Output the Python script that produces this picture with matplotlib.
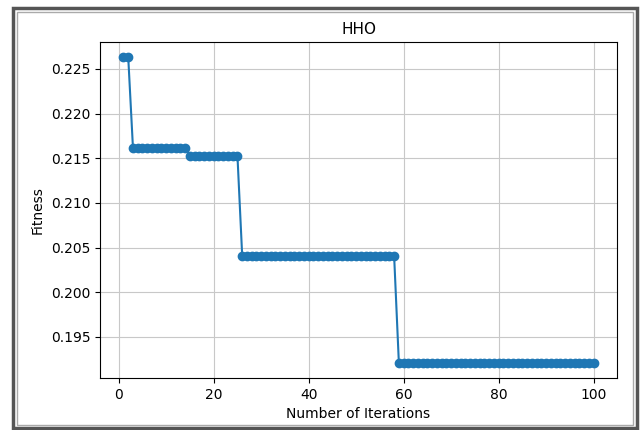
import matplotlib
matplotlib.use("Agg")
import matplotlib.pyplot as plt
from matplotlib.patches import Rectangle

levels = [0.2263, 0.2161, 0.2153, 0.2041, 0.1921]
run_lengths = [2, 12, 11, 33, 42]

fitness = []
for level, n in zip(levels, run_lengths):
    fitness += [level] * n
iterations = list(range(1, len(fitness) + 1))

fig = plt.figure(figsize=(6.43, 4.30), dpi=100)
ax = fig.add_axes([0.1555, 0.1209, 0.8041, 0.7814])
ax.plot(iterations, fitness, marker='o', color='#1f77b4')
ax.set_title("HHO", fontsize=11)
ax.set_xlabel("Number of Iterations")
ax.set_ylabel("Fitness")
ax.set_xticks([0, 20, 40, 60, 80, 100])
ax.set_yticks([0.195, 0.200, 0.205, 0.210, 0.215, 0.220, 0.225])
ax.grid(True, color='#c8c8c8')

# frame around the screenshot
fig.patches.append(Rectangle((13 / 643, 2 / 430), 624 / 643, 420 / 430, transform=fig.transFigure,
                             fill=False, edgecolor='#555555', linewidth=2.5))
fig.patches.append(Rectangle((17 / 643, 5 / 430), 616 / 643, 413 / 430, transform=fig.transFigure,
                             fill=False, edgecolor='#aaaaaa', linewidth=1))

fig.savefig("out.png", dpi=100)
